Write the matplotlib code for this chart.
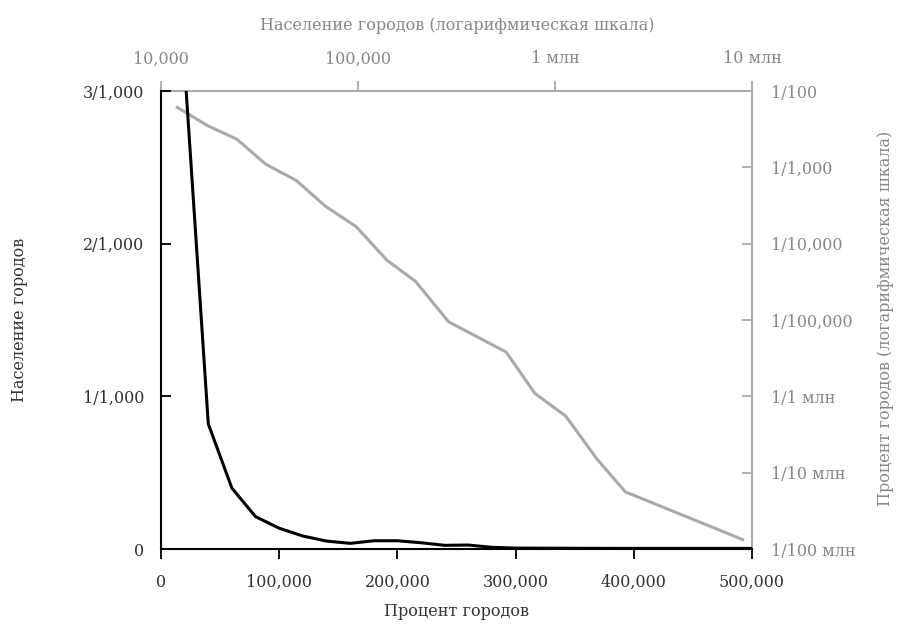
import matplotlib
matplotlib.use('Agg')
import matplotlib.pyplot as plt
from matplotlib.ticker import FixedLocator, NullLocator

# Linear data (black line): city size vs share of cities
lin_x = [20000, 40000, 60000, 80000, 100000, 120000, 140000, 160000, 180000,
         200000, 220000, 240000, 260000, 280000, 300000, 340000, 380000,
         420000, 460000, 500000]
lin_y = [0.00315, 0.00082, 0.000398, 0.000212, 0.000136, 0.000085, 0.000052,
         0.000037, 0.000054, 0.000054, 0.000041, 0.000024, 0.000026, 0.000011,
         0.000006, 0.000005, 0.000004, 0.000004, 0.000004, 0.000004]

# Log-log data (gray line)
log_x = [12100, 17300, 24300, 34000, 48700, 68300, 97900, 140000, 196000,
         288000, 565000, 791000, 1135000, 1625000, 2276000, 8970000]
log_y = [6.1e-3, 3.5e-3, 2.33e-3, 1.1e-3, 6.7e-4, 3.1e-4, 1.67e-4, 6.1e-5,
         3.2e-5, 9.5e-6, 3.8e-6, 1.09e-6, 5.5e-7, 1.53e-7, 5.6e-8, 1.33e-8]

bottom_ticks = [0, 100000, 200000, 300000, 400000, 500000]
bottom_labels = ['0', '100,000', '200,000', '300,000', '400,000', '500,000']
left_ticks = [0, 0.001, 0.002, 0.003]
left_labels = ['0', '1/1,000', '2/1,000', '3/1,000']
top_ticks = [1e4, 1e5, 1e6, 1e7]
top_labels = ['10,000', '100,000', '1 млн', '10 млн']
right_ticks = [1e-2, 1e-3, 1e-4, 1e-5, 1e-6, 1e-7, 1e-8]
right_labels = ['1/100', '1/1,000', '1/10,000', '1/100,000', '1/1 млн',
                '1/10 млн', '1/100 млн']

plt.rcParams['font.family'] = ['DejaVu Serif']
dark = '#333333'
gray = '#aaaaaa'
gray_text = '#888888'
fs = 11.5

fig = plt.figure(figsize=(9.07, 6.27), dpi=100)
pos = [161 / 907, 1 - 549 / 627, (752 - 161) / 907, (549 - 91) / 627]

# log axes (behind)
axl = fig.add_axes(pos)
axl.set_xscale('log')
axl.set_yscale('log')
axl.plot(log_x, log_y, color=gray, lw=2.2, solid_joinstyle='round')
axl.set_xlim(1e4, 1e7)
axl.set_ylim(1e-8, 1e-2)
axl.xaxis.tick_top()
axl.yaxis.tick_right()
axl.xaxis.set_major_locator(FixedLocator(top_ticks))
axl.xaxis.set_minor_locator(NullLocator())
axl.yaxis.set_major_locator(FixedLocator(right_ticks))
axl.yaxis.set_minor_locator(NullLocator())
axl.set_xticklabels(top_labels)
axl.set_yticklabels(right_labels)
axl.tick_params(axis='x', direction='out', length=7, width=1.3, color=gray,
                labelcolor=gray_text, labelsize=fs, pad=10)
axl.tick_params(axis='y', direction='in', length=7, width=1.3, color=gray,
                labelcolor=gray_text, labelsize=fs, pad=14)
for s in ['left', 'bottom']:
    axl.spines[s].set_visible(False)
for s in ['top', 'right']:
    axl.spines[s].set_color(gray)
    axl.spines[s].set_linewidth(1.5)

# linear axes (front)
ax = fig.add_axes(pos)
ax.patch.set_alpha(0)
ax.plot(lin_x, lin_y, color='black', lw=2.2, solid_joinstyle='round')
ax.set_xlim(0, 500000)
ax.set_ylim(0, 0.003)
ax.set_xticks(bottom_ticks)
ax.set_xticklabels(bottom_labels)
ax.set_yticks(left_ticks)
ax.set_yticklabels(left_labels)
ax.tick_params(axis='x', direction='out', length=7, width=1.3, color='black',
               labelcolor=dark, labelsize=fs, pad=11)
ax.tick_params(axis='y', direction='in', length=7, width=1.3, color='black',
               labelcolor=dark, labelsize=fs, pad=12)
for s in ['top', 'right']:
    ax.spines[s].set_visible(False)
for s in ['left', 'bottom']:
    ax.spines[s].set_color('black')
    ax.spines[s].set_linewidth(1.5)

# axis titles
fig.text(457 / 907, 1 - 25 / 627, 'Население городов (логарифмическая шкала)',
         ha='center', va='center', color=gray_text, fontsize=fs)
fig.text(456 / 907, 1 - 612 / 627, 'Процент городов', ha='center', va='center',
         color=dark, fontsize=fs)
fig.text(20 / 907, 1 - 320 / 627, 'Население городов', ha='center', va='center',
         rotation=90, color=dark, fontsize=fs)
fig.text(886 / 907, 1 - 318 / 627, 'Процент городов (логарифмическая шкала)',
         ha='center', va='center', rotation=90, color=gray_text, fontsize=fs)

fig.savefig('out.png', dpi=100)
